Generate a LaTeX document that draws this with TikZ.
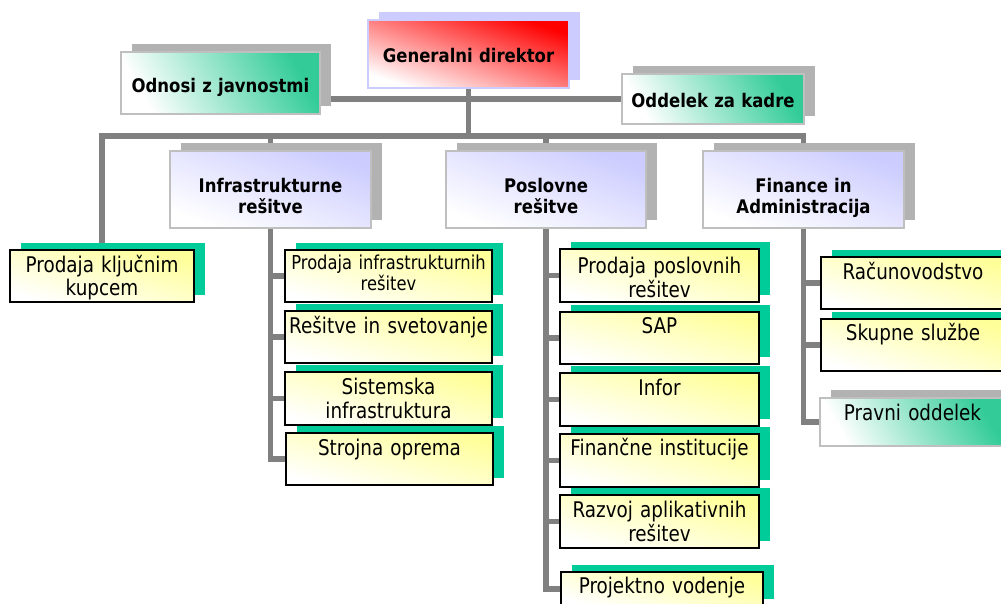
\documentclass[tikz,border=0pt]{standalone}
\usepackage{fontspec}
\setmainfont{DejaVu Sans}[FakeStretch=0.85, BoldFeatures={FakeStretch=0.88}]
\usetikzlibrary{shadows,backgrounds}
\definecolor{ylw}{HTML}{FFFF99}
\definecolor{lav}{HTML}{CCCCFF}
\definecolor{gdred}{HTML}{FF0000}
\definecolor{grn}{HTML}{33CC99}
\definecolor{shgray}{HTML}{B2B2B2}
\definecolor{shgrn}{HTML}{00CC99}
\definecolor{linegray}{HTML}{808080}
\definecolor{bordergray}{HTML}{BFBFBF}
\tikzset{
  boxbase/.style={rectangle, inner xsep=0pt, inner ysep=0pt, align=center, text=black},
  regfont/.style={font=\fontsize{21.6pt}{24pt}\selectfont},
  boldfont/.style={font=\fontsize{18.75pt}{21pt}\selectfont\bfseries},
  greyshadow/.style={general shadow={fill=shgray, shadow xshift=11pt, shadow yshift=8pt}},
  gdbox/.style={boxbase, boldfont, draw=lav, line width=1.6pt, top color=gdred, bottom color=white, shading angle=-19, general shadow={fill=lav, shadow xshift=10.5pt, shadow yshift=8pt}},
  grnbox/.style={boxbase, draw=bordergray, line width=1.6pt, top color=grn, bottom color=white, shading angle=-60, greyshadow},
  lavbox/.style={boxbase, boldfont, draw=bordergray, line width=1.6pt, top color=lav, bottom color=white, shading angle=-21, greyshadow},
  ylwbox/.style={boxbase, regfont, draw=black, line width=1.8pt, top color=ylw, bottom color=white, shading angle=-15, general shadow={fill=shgrn, shadow xshift=11pt, shadow yshift=7.5pt}},
  conn/.style={draw=linegray, line width=5.5pt, line join=miter},
  sz/.style n args={3}{minimum width=#1pt, text width=#1pt, text height=#2pt, text depth=#3pt},
}
\begin{document}
\begin{tikzpicture}[x=1pt,y=-1pt]
\useasboundingbox (0,0) rectangle (1001,604);
\clip (0,0) rectangle (1001,604);
% top level
\node[gdbox, sz={201}{43}{25}] (gd) at (468.5,54) {Generalni direktor};
\node[grnbox, boldfont, sz={199}{41}{21}] (odn) at (220.5,83) {Odnosi z javnostmi};
\node[grnbox, boldfont, sz={182}{34}{16}] (odd) at (713,99) {Oddelek za kadre};
% second level
\node[lavbox, sz={201}{42}{35}] (infra) at (270.5,189.5) {Infrastrukturne\\rešitve};
\node[lavbox, sz={200}{42}{35}] (posl) at (546,189.5) {Poslovne\\rešitve};
\node[lavbox, sz={201}{42}{35}] (fin) at (803.5,189.5) {Finance in\\Administracija};
\node[ylwbox, shading angle=-16, sz={184}{22}{30}] (pk) at (102,276) {Prodaja ključnim\\kupcem};
% infrastructure column
\node[ylwbox, font=\fontsize{19.2pt}{21pt}\selectfont, sz={207}{19}{33}] (pi) at (388.5,276) {Prodaja infrastrukturnih\\rešitev};
\node[ylwbox, sz={207}{22}{30}] (rs) at (388.5,337) {Rešitve in svetovanje};
\node[ylwbox, sz={207}{22}{31}] (si) at (388.5,398.5) {Sistemska\\infrastruktura};
\node[ylwbox, sz={207}{22}{30}] (so) at (389.5,459) {Strojna oprema};
% business column
\node[ylwbox, sz={199}{24}{29}] (pp) at (659.5,275.5) {Prodaja poslovnih\\rešitev};
\node[ylwbox, sz={199}{21}{31}] (sap) at (659.5,338) {SAP};
\node[ylwbox, sz={199}{22}{31}] (inf) at (659.5,399.5) {Infor};
\node[ylwbox, sz={199}{21}{32}] (fi) at (659.5,460.5) {Finančne institucije};
\node[ylwbox, sz={199}{22}{31}] (rz) at (659.5,521.5) {Razvoj aplikativnih\\rešitev};
\node[ylwbox, sz={202}{21}{13}] (pv) at (662,589) {Projektno vodenje};
% finance column
\node[ylwbox, shading angle=-16, sz={184}{22}{30}] (rac) at (913,283) {Računovodstvo};
\node[ylwbox, shading angle=-16, sz={184}{21}{31}] (sk) at (913,345) {Skupne službe};
\node[grnbox, regfont, sz={185}{22}{26}] (pr) at (912.5,422) {Pravni oddelek};
\coordinate (bus) at (468.5,136);
\begin{pgfonlayer}{background}
\fill[white] (0,0) rectangle (1001,604);
\draw[conn] (gd.south) -- (bus);
\draw[conn] (odd.west) -- (odd.west -| odn.east);
\draw[conn] (pk.north) |- (bus -| fin.north) -- (fin.north);
\draw[conn] (bus -| infra.north) -- (infra.north);
\draw[conn] (bus -| posl.north) -- (posl.north);
\foreach \nm in {pi,rs,si,so} \draw[conn] (infra.south) |- (\nm.west);
\foreach \nm in {pp,sap,inf,fi,rz,pv} \draw[conn] (posl.south) |- (\nm.west);
\foreach \nm in {rac,sk,pr} \draw[conn] (fin.south) |- (\nm.west);
\end{pgfonlayer}
\end{tikzpicture}
\end{document}
